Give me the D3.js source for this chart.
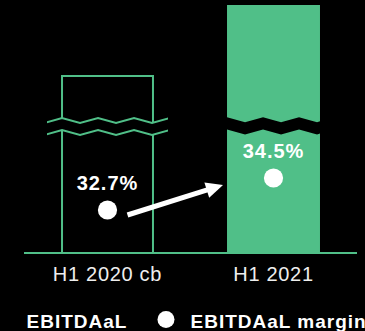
<!DOCTYPE html>
<html>
<head>
<meta charset="utf-8">
<script src="https://cdn.jsdelivr.net/npm/d3@7"></script>
<style>
  html, body { margin: 0; padding: 0; background: #000; }
  svg { display: block; }
</style>
</head>
<body>
<script>
// Periods on the x axis
const categories = ["H1 2020 cb", "H1 2021"];
// EBITDAaL bar heights (axis is broken, so these are display units)
const ebitdaal = [178, 248];
// EBITDAaL margin, in percent
const margins = [32.7, 34.5];
const marginLabels = ["32.7%", "34.5%"];
// Legend entries
const legendLabels = ["EBITDAaL", "EBITDAaL margin"];

const W = 365, H = 331;
const green = "#50bf88";
const baseY = 253;

const svg = d3.select("body").append("svg")
  .attr("width", W).attr("height", H)
  .style("background", "#000");

const x = d3.scaleBand()
  .domain(categories)
  .range([24, 357])
  .paddingInner(0.44)
  .paddingOuter(0.223);

const y = d3.scaleLinear().domain([0, 248]).range([baseY, 5]);
const yMargin = d3.scaleLinear().domain([32.7, 34.5]).range([210, 178]);

const bw = x.bandwidth();

// zigzag break geometry
const step = 18, amp = 5;
const breakTop = 118, breakBot = 130;
function zig(x0, kFrom, kTo, yHigh) {
  const pts = [];
  for (let k = kFrom; k <= kTo; k++) {
    pts.push([x0 + k * step, yHigh + (Math.abs(k) % 2 === 1 ? amp : 0)]);
  }
  return pts;
}

const defs = svg.append("defs");

// ---- H1 2020 cb: outlined bar with a break ----
const c0 = categories[0];
const x0 = x(c0);
svg.append("rect")
  .attr("x", x0 + 1)
  .attr("y", y(ebitdaal[0]) + 1)
  .attr("width", bw - 2)
  .attr("height", baseY - y(ebitdaal[0]) - 1)
  .attr("fill", "none")
  .attr("stroke", green)
  .attr("stroke-width", 2);

defs.append("clipPath").attr("id", "clipBreak0")
  .append("rect")
  .attr("x", x0 - 14).attr("y", 100)
  .attr("width", bw + 28).attr("height", 50);

const gBreak0 = svg.append("g").attr("clip-path", "url(#clipBreak0)");
const top0 = zig(x0 + 1, -1, 6, breakTop);
const bot0 = zig(x0 + 1, -1, 6, breakBot);
gBreak0.append("path")
  .attr("d", d3.line()(top0.concat(bot0.slice().reverse())) + "Z")
  .attr("fill", "#000");
gBreak0.append("path")
  .attr("d", d3.line()(top0))
  .attr("fill", "none").attr("stroke", green).attr("stroke-width", 2);
gBreak0.append("path")
  .attr("d", d3.line()(bot0))
  .attr("fill", "none").attr("stroke", green).attr("stroke-width", 2);

// ---- H1 2021: filled bar with a break ----
const c1 = categories[1];
const x1 = x(c1);
svg.append("rect")
  .attr("x", x1)
  .attr("y", y(ebitdaal[1]))
  .attr("width", bw)
  .attr("height", baseY - y(ebitdaal[1]))
  .attr("fill", green);

defs.append("clipPath").attr("id", "clipBreak1")
  .append("rect")
  .attr("x", x1).attr("y", 100)
  .attr("width", bw).attr("height", 50);

const top1 = zig(x1, -1, 6, breakTop - 0.8);
const bot1 = zig(x1, -1, 6, breakBot - 0.6);
svg.append("path")
  .attr("clip-path", "url(#clipBreak1)")
  .attr("d", d3.line()(top1.concat(bot1.slice().reverse())) + "Z")
  .attr("fill", "#000");

// ---- baseline ----
svg.append("line")
  .attr("x1", 24).attr("x2", 357)
  .attr("y1", baseY).attr("y2", baseY)
  .attr("stroke", green).attr("stroke-width", 2);

// ---- category labels ----
svg.selectAll("text.cat")
  .data(categories)
  .join("text")
  .attr("class", "cat")
  .attr("x", d => x(d) + bw / 2)
  .attr("y", 280.5)
  .attr("text-anchor", "middle")
  .attr("font-family", "Liberation Sans, Arial, sans-serif")
  .attr("font-size", 20)
  .attr("letter-spacing", 0.7)
  .attr("fill", "#eeeeee")
  .text(d => d);

// ---- arrow between margins ----
const start = [x(c0) + bw / 2 + 20, yMargin(margins[0]) + 5];
const tip = [x1 - 4, yMargin(margins[1]) + 7];
const dx = tip[0] - start[0], dy = tip[1] - start[1];
const len = Math.hypot(dx, dy);
const u = [dx / len, dy / len];
const n = [-u[1], u[0]];
const headLen = 17, headHalf = 8;
const base = [tip[0] - u[0] * headLen, tip[1] - u[1] * headLen];
svg.append("line")
  .attr("x1", start[0]).attr("y1", start[1])
  .attr("x2", tip[0] - u[0] * (headLen - 3)).attr("y2", tip[1] - u[1] * (headLen - 3))
  .attr("stroke", "#fff").attr("stroke-width", 5);
svg.append("path")
  .attr("d", d3.line()([
    tip,
    [base[0] + n[0] * headHalf, base[1] + n[1] * headHalf],
    [base[0] - n[0] * headHalf, base[1] - n[1] * headHalf]
  ]) + "Z")
  .attr("fill", "#fff");

// ---- margin dots and labels ----
svg.selectAll("circle.margin")
  .data(margins)
  .join("circle")
  .attr("class", "margin")
  .attr("cx", (d, i) => x(categories[i]) + bw / 2)
  .attr("cy", d => yMargin(d))
  .attr("r", 9.6)
  .attr("fill", "#fff");

svg.selectAll("text.margin")
  .data(margins)
  .join("text")
  .attr("class", "margin")
  .attr("x", (d, i) => x(categories[i]) + bw / 2)
  .attr("y", d => yMargin(d) - 20)
  .attr("text-anchor", "middle")
  .attr("font-family", "Liberation Sans, Arial, sans-serif")
  .attr("font-weight", "bold")
  .attr("font-size", 20)
  .attr("letter-spacing", 1)
  .attr("fill", "#fff")
  .text((d, i) => marginLabels[i]);

// ---- legend ----
const legY = 328;
svg.append("text")
  .attr("x", 26.5).attr("y", legY)
  .attr("font-family", "Liberation Sans, Arial, sans-serif")
  .attr("font-weight", "bold")
  .attr("font-size", 19)
  .attr("letter-spacing", 1)
  .attr("fill", "#fff")
  .text(legendLabels[0]);
svg.append("circle")
  .attr("cx", 166).attr("cy", 319.5).attr("r", 8.5)
  .attr("fill", "#fff");
svg.append("text")
  .attr("x", 190.5).attr("y", legY)
  .attr("font-family", "Liberation Sans, Arial, sans-serif")
  .attr("font-weight", "bold")
  .attr("font-size", 19)
  .attr("letter-spacing", 1)
  .attr("fill", "#fff")
  .text(legendLabels[1]);
</script>
</body>
</html>
